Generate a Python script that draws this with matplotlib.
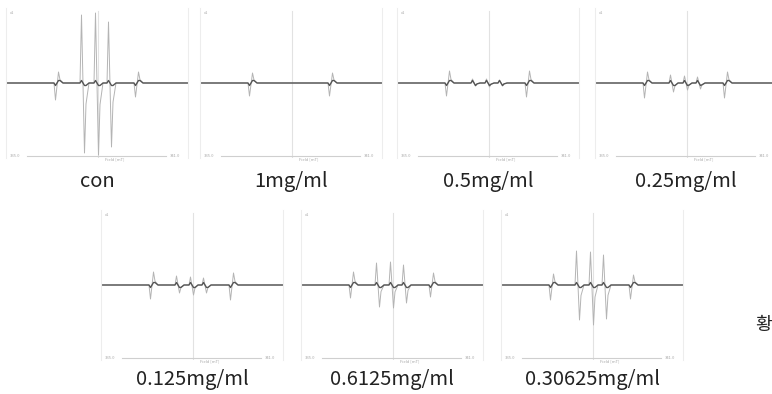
import numpy as np
import matplotlib.pyplot as plt

plt.rcParams['font.family'] = ['Noto Sans CJK KR', 'DejaVu Sans']

# sample labels (concentration of extract)
labels = ["con", "1mg/ml", "0.5mg/ml", "0.25mg/ml",
          "0.125mg/ml", "0.6125mg/ml", "0.30625mg/ml"]

# field positions (G, relative to centre) of the Mn marker lines and adduct lines
mn_field = [-40, 40]
spin_field = [-14, 0, 13]

# signal extremes, arbitrary units (dip / rise of each Mn marker line)
mn_lo = [[-17, -14], [-13, -13], [-13, -14], [-15, -15], [-14, -15], [-13, -12], [-15, -14]]
mn_hi = [[11, 11], [10, 10], [12, 12], [11, 11], [13, 12], [13, 12], [11, 10]]
# rise / dip of each adduct line
spin_hi = [[68, 70, 61], [0, 0, 0], [4, 4, 3], [8, 7, 6], [9, 8, 7], [22, 23, 20], [34, 33, 30]]
spin_lo = [[-70, -72, -64], [0, 0, 0], [-3, -4, -3], [-9, -7, -6], [-8, -10, -8], [-22, -23, -18], [-35, -40, -34]]

field_min, field_max = -91, 91

W, H = 772, 394
fig = plt.figure(figsize=(W / 100, H / 100), dpi=100)

# panel left edges and top edges in pixels
left_px = [6, 200, 397, 595, 101, 301, 501]
top_px = [8, 8, 8, 8, 210, 210, 210]
label_y = [182, 182, 182, 182, 380, 380, 380]
pw, ph = 182, 150


def trace(k):
    peaks = []
    for j, x in enumerate(mn_field):
        peaks.append((x, mn_lo[k][j], mn_hi[k][j]))
    for j, x in enumerate(spin_field):
        peaks.append((x, spin_hi[k][j], spin_lo[k][j]))
    peaks.sort()
    xs, ys = [field_min], [0]
    for x, a1, a2 in peaks:
        xs += [x - 3, x - 1.5, x + 1.5, x + 3, x + 6]
        ys += [0, a1, a2, a2 * 0.3, 0]
    xs.append(field_max)
    ys.append(0)
    return np.array(xs), np.array(ys, dtype=float)


for k in range(7):
    ax = fig.add_axes([left_px[k] / W, 1 - (top_px[k] + ph) / H, pw / W, ph / H])
    ax.set_xlim(field_min, field_max)
    ax.set_ylim(-75, 75)
    ax.set_xticks([])
    ax.set_yticks([])
    for s in ['top', 'bottom']:
        ax.spines[s].set_visible(False)
    for s in ['left', 'right']:
        ax.spines[s].set_color('#ededed')
        ax.spines[s].set_linewidth(0.8)

    ax.axvline(1, color='#e2e2e2', lw=0.8, ymin=0.01, ymax=0.98)
    ax.axhline(-73, xmin=0.115, xmax=0.88, color='#cfcfcf', lw=0.8)

    # tiny instrument annotations
    ax.text(0.02, 0.965, 'x1', transform=ax.transAxes, fontsize=3,
            color='#aaaaaa', va='center', ha='left')
    ax.text(0.02, 0.013, '335.0', transform=ax.transAxes, fontsize=3,
            color='#aaaaaa', va='center', ha='left')
    ax.text(0.955, 0.013, '341.0', transform=ax.transAxes, fontsize=3,
            color='#aaaaaa', va='center', ha='right')
    ax.text(0.6, -0.01, 'Field [mT]', transform=ax.transAxes, fontsize=3,
            color='#aaaaaa', va='center', ha='center')

    xs, ys = trace(k)
    ax.plot(xs, ys, color='#b4b4b4', lw=0.7)
    ax.plot(xs, np.clip(ys, -2.5, 2.5), color='#555555', lw=1.0)

    cx = (left_px[k] + pw / 2) / W
    fig.text(cx, 1 - label_y[k] / H, labels[k], fontsize=14.5, color='#222222',
             ha='center', va='center')

fig.text(755 / W, 1 - 325 / H, '황', fontsize=13, color='#222222',
         ha='left', va='center')

fig.savefig('out.png', dpi=100, facecolor='white')
